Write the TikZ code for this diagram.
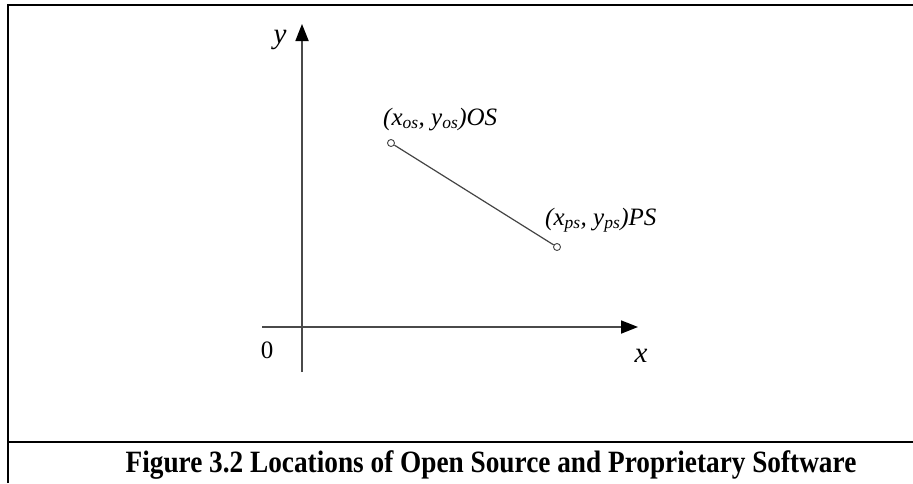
\documentclass[tikz,border=0pt]{standalone}
\usepackage{fontspec}
\setmainfont{Liberation Serif}
\newfontfamily\capfont[FakeStretch=0.88]{Liberation Serif}
\usetikzlibrary{arrows.meta}
\definecolor{axisColor}{HTML}{4A4A4A}
\definecolor{segColor}{HTML}{444444}

\begin{document}
\begin{tikzpicture}[x=1pt,y=-1pt,
    frame/.style={line width=2pt,black},
    axis/.style={line width=1.8pt,axisColor,-{Triangle[length=17pt,width=13pt,color=black]}},
    pt/.style={circle,draw=segColor,fill=white,line width=0.9pt,inner sep=0pt,minimum size=7pt},
    lbl/.style={font=\fontsize{25}{28}\selectfont\itshape,inner sep=0pt},
    axlbl/.style={font=\fontsize{29}{32}\selectfont\itshape,inner sep=0pt}]
  \useasboundingbox (0,0) rectangle (913,483);
  \draw[frame] (8,483) -- (8,5) -- (913,5);
  \draw[frame] (8,442) -- (913,442);
  \coordinate (ybot) at (302,372);
  \coordinate (ytop) at (302,24);
  \coordinate (xleft) at (262,327);
  \coordinate (xright) at (638,327);
  \draw[axis] (ybot) -- (ytop);
  \draw[axis] (xleft) -- (xright);
  \node[axlbl] (ylab) at (280,40) {y};
  \node[axlbl] (xlab) at (641,356) {x};
  \node[font=\fontsize{25}{28}\selectfont,inner sep=0pt] (zero) at (267,350) {0};
  \node[pt] (os) at (391,143) {};
  \node[pt] (ps) at (557,247) {};
  \draw[segColor,line width=1.2pt] (os) -- (ps);
  \node[lbl,anchor=base west] (oslbl) at (383,125) {(x\textsubscript{os}, y\textsubscript{os})OS};
  \node[lbl,anchor=base west] (pslbl) at (545,225) {(x\textsubscript{ps}, y\textsubscript{ps})PS};
  \node[font=\fontsize{31}{34}\selectfont\capfont\bfseries,inner sep=0pt] (caption) at (491,465) {Figure 3.2 Locations of Open Source and Proprietary Software};
\end{tikzpicture}
\end{document}
